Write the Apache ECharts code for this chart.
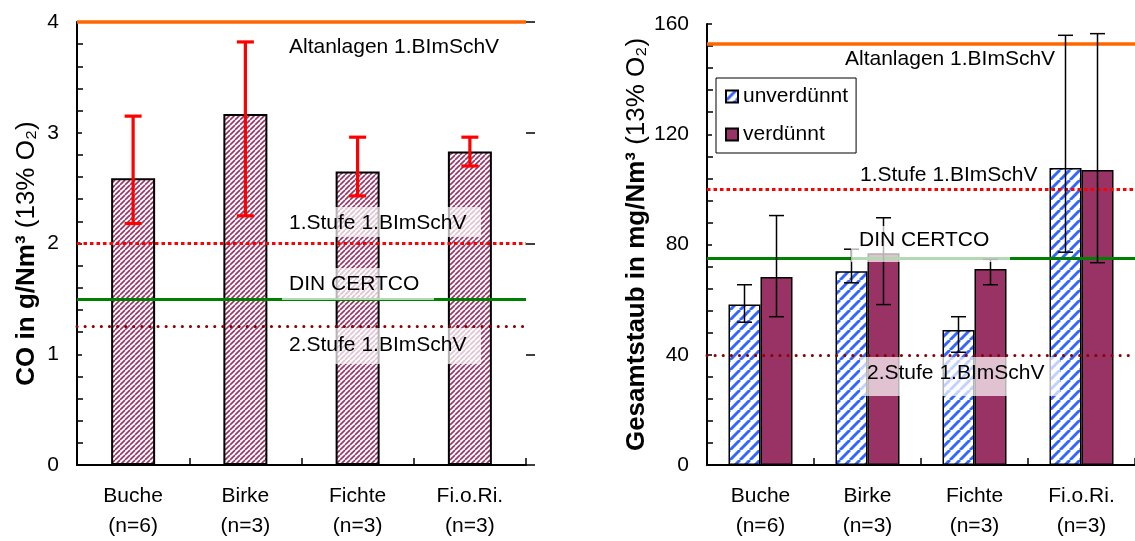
<!DOCTYPE html>
<html>
<head>
<meta charset="utf-8">
<script src="https://cdn.jsdelivr.net/npm/echarts@6/dist/echarts.min.js"></script>
<style>
html,body{margin:0;padding:0;background:#fff;}
#chart{width:1135px;height:541px;}
</style>
</head>
<body>
<div id="chart"></div>
<script>
// ---------- data ----------
const woodTypes = ['Buche', 'Birke', 'Fichte', 'Fi.o.Ri.'];
const sampleCounts = ['(n=6)', '(n=3)', '(n=3)', '(n=3)'];

const coMean = [2.59, 3.17, 2.65, 2.83];
const coLow = [2.18, 2.25, 2.43, 2.70];
const coHigh = [3.15, 3.82, 2.96, 2.96];

const dustUndiluted = [58.2, 70.3, 49.0, 107.8];
const dustUndilutedLow = [51.8, 66.1, 40.9, 77.2];
const dustUndilutedHigh = [65.4, 78.3, 53.8, 155.9];

const dustDiluted = [68.2, 76.8, 71.1, 107.0];
const dustDilutedLow = [53.8, 58.2, 65.4, 73.4];
const dustDilutedHigh = [90.5, 89.7, 74.6, 156.5];

const limitNames = ['Altanlagen 1.BImSchV', '1.Stufe 1.BImSchV', 'DIN CERTCO', '2.Stufe 1.BImSchV'];
const coLimits = [4.0, 2.0, 1.5, 1.25];
const dustLimits = [153, 100, 75, 40];

const coTicks = [0, 1, 2, 3, 4];
const dustTicks = [0, 40, 80, 120, 160];

// ---------- helpers ----------
const FONT = '"Liberation Sans", Arial, Helvetica, sans-serif';
function hatch(size, color, lw) {
  const c = document.createElement('canvas');
  c.width = size; c.height = size;
  const g = c.getContext('2d');
  g.fillStyle = '#ffffff';
  g.fillRect(0, 0, size, size);
  g.strokeStyle = color;
  g.lineWidth = lw;
  for (let k = -size; k <= size; k += size) {
    g.beginPath();
    g.moveTo(k, size);
    g.lineTo(k + size, 0);
    g.stroke();
  }
  return c;
}
const plumHatch = { image: hatch(5, '#993366', 1.6), repeat: 'repeat' };
const blueHatch = { image: hatch(10, '#3366ff', 3), repeat: 'repeat' };

const categories = woodTypes.map((w, i) => w + '\n' + sampleCounts[i]);
const lineStyles = [
  { color: '#ff6600', width: 3.5, type: 'solid' },
  { color: '#ff0000', width: 3, type: [3.5, 3] },
  { color: '#008000', width: 3, type: 'solid' },
  { color: '#8b0000', width: 3, type: [0.1, 8], cap: 'round' }
];
function limitLines(vals) {
  return {
    silent: true, symbol: ['none', 'none'], label: { show: false },
    data: vals.map((v, i) => ({ yAxis: v, lineStyle: lineStyles[i] }))
  };
}
function errSeries(name, xi, yi, lo, hi, offset, color, lw, capHalf) {
  return {
    name: name, type: 'custom', xAxisIndex: xi, yAxisIndex: yi, z: 6, silent: true,
    data: lo.map((l, i) => [i, l, hi[i]]),
    renderItem: function (params, api) {
      const a = api.coord([api.value(0), api.value(1)]);
      const b = api.coord([api.value(0), api.value(2)]);
      const x = a[0] + offset;
      const st = { stroke: color, lineWidth: lw };
      return { type: 'group', children: [
        { type: 'line', shape: { x1: x, y1: a[1], x2: x, y2: b[1] }, style: st },
        { type: 'line', shape: { x1: x - capHalf, y1: a[1], x2: x + capHalf, y2: a[1] }, style: st },
        { type: 'line', shape: { x1: x - capHalf, y1: b[1], x2: x + capHalf, y2: b[1] }, style: st }
      ] };
    }
  };
}
function yAxes(grid, min, max, interval, name, gap, fs, endPad) {
  return [
    { type: 'value', gridIndex: grid, min: min, max: max, interval: interval,
      name: name, nameLocation: 'middle', nameGap: gap, nameRotate: 90,
      nameTextStyle: { color: '#000', padding: [0, endPad, 0, 0], rich: {
        b: { fontFamily: FONT, fontSize: fs, fontWeight: 'bold', color: '#000' },
        r: { fontFamily: FONT, fontSize: fs, color: '#000' } } },
      axisLine: { show: true, lineStyle: { color: '#000', width: 2 } },
      axisTick: { show: true, inside: true, length: 5, lineStyle: { color: '#000', width: 1.5 } },
      minorTick: { show: true, splitNumber: 5, length: 6, lineStyle: { color: '#000', width: 1.5 } },
      splitLine: { show: false },
      axisLabel: { fontFamily: FONT, fontSize: 21, color: '#000', margin: 18 } },
    { type: 'value', gridIndex: grid, min: min, max: max, interval: interval,
      axisLine: { show: false }, axisLabel: { show: false }, splitLine: { show: false },
      axisTick: { show: true, inside: false, length: 9, lineStyle: { color: '#000', width: 1.5 } } }
  ];
}
function xAxes(grid) {
  return [
    { type: 'category', gridIndex: grid, data: categories,
      axisLine: { show: true, lineStyle: { color: '#000', width: 2 } },
      axisTick: { show: true, inside: true, length: 5, lineStyle: { color: '#000', width: 1.5 } },
      axisLabel: { fontFamily: FONT, fontSize: 21, color: '#000', margin: 16, lineHeight: 30 } },
    { type: 'category', gridIndex: grid, data: categories,
      axisLine: { show: false }, axisLabel: { show: false },
      axisTick: { show: true, inside: false, length: 7, lineStyle: { color: '#000', width: 1.5 } } }
  ];
}

const chart = echarts.init(document.getElementById('chart'), null, { renderer: 'canvas' });

function labelBox(x, y, w, h) {
  return { type: 'rect', z: 20, shape: { x: x, y: y, width: w, height: h },
    style: { fill: 'rgba(255,255,255,0.7)' }, silent: true };
}
function labelText(x, cy, txt) {
  return { type: 'text', z: 21, x: x, y: cy, silent: true,
    style: { text: txt, fontFamily: FONT, fontSize: 21, fill: '#000', verticalAlign: 'middle', align: 'left' } };
}

chart.setOption({
  animation: false,
  backgroundColor: '#fff',
  textStyle: { fontFamily: FONT },
  grid: [
    { left: 77, top: 22, width: 449, height: 443, containLabel: false },
    { left: 707, top: 24, width: 438, height: 446, containLabel: false }
  ],
  legend: {
    left: 716, top: 78, orient: 'vertical', icon: 'rect',
    data: ['unverdünnt', 'verdünnt'],
    itemWidth: 12, itemHeight: 12, itemGap: 17,
    borderColor: '#000', borderWidth: 1, backgroundColor: '#fff',
    padding: [8, 8, 8, 9],
    textStyle: { fontFamily: FONT, fontSize: 21, color: '#000' }
  },
  xAxis: xAxes(0).concat(xAxes(1)).map((a, i) => Object.assign(a, { gridIndex: i < 2 ? 0 : 1 })),
  yAxis: yAxes(0, 0, 4, 1, '{b|CO in g/Nm³}{r| (13% O₂)}', 37, 26, 20)
    .concat(yAxes(1, 0, 160, 40, '{b|Gesamtstaub in mg/Nm³}{r| (13% O₂)}', 55, 26, 0)),
  series: [
    { name: 'CO', type: 'bar', xAxisIndex: 0, yAxisIndex: 0, barWidth: 44, data: coMean,
      itemStyle: { color: plumHatch, borderColor: '#000', borderWidth: 2 },
      markLine: limitLines(coLimits) },
    errSeries('CO err', 0, 0, coLow, coHigh, 0, '#ff0000', 3.2, 8.5),
    { name: 'unverdünnt', type: 'bar', xAxisIndex: 2, yAxisIndex: 2, barWidth: 32, barGap: '0%',
      data: dustUndiluted,
      itemStyle: { color: blueHatch, borderColor: '#000', borderWidth: 1.5 },
      markLine: limitLines(dustLimits) },
    { name: 'verdünnt', type: 'bar', xAxisIndex: 2, yAxisIndex: 2, barWidth: 32, barGap: '0%',
      data: dustDiluted,
      itemStyle: { color: '#993366', borderColor: '#000', borderWidth: 1.5 } },
    errSeries('unv err', 2, 2, dustUndilutedLow, dustUndilutedHigh, -16, '#000', 1.5, 7.5),
    errSeries('ver err', 2, 2, dustDilutedLow, dustDilutedHigh, 16, '#000', 1.5, 7.5)
  ],
  graphic: [
    labelText(289, 47, limitNames[0]),
    labelBox(282, 207, 199, 30), labelText(289, 223, limitNames[1]),
    labelBox(282, 268, 152, 32), labelText(289, 284, limitNames[2]),
    labelBox(282, 328, 199, 36), labelText(289, 345, limitNames[3]),
    labelText(845, 59, limitNames[0]),
    labelText(860, 175, limitNames[1]),
    labelBox(851, 226, 159, 36), labelText(859, 240, limitNames[2]),
    labelBox(860, 357, 200, 39), labelText(867, 373, limitNames[3])
  ]
});
</script>
</body>
</html>
